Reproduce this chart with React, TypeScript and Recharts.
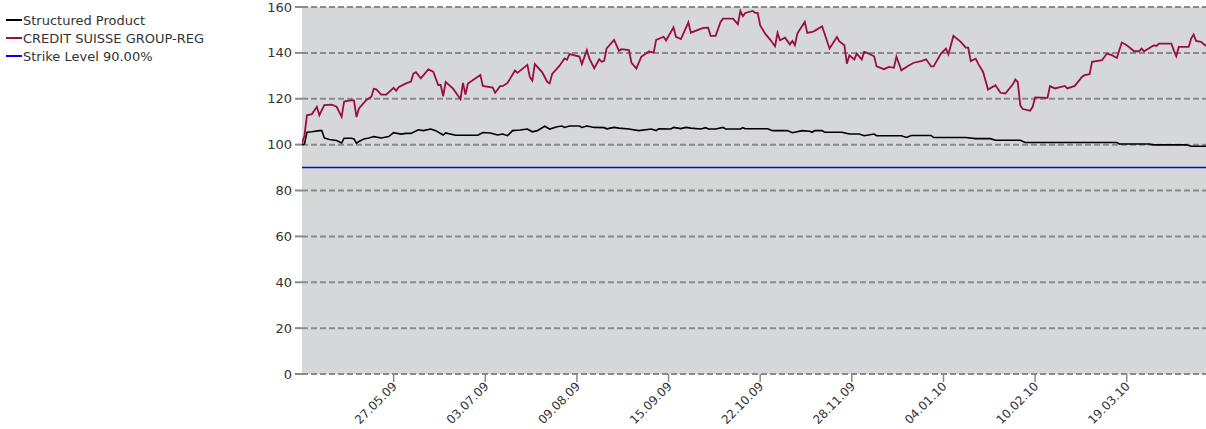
import React from 'react';
import { LineChart, Line, XAxis, YAxis, CartesianGrid } from 'recharts';

const creditDates = [
  '2009-04-20','2009-04-21','2009-04-22','2009-04-24','2009-04-26','2009-04-27','2009-04-29','2009-05-02','2009-05-04','2009-05-06',
  '2009-05-07','2009-05-10','2009-05-11','2009-05-12','2009-05-13','2009-05-16','2009-05-18','2009-05-19','2009-05-20','2009-05-22',
  '2009-05-24','2009-05-27','2009-05-28','2009-05-29','2009-06-01','2009-06-03','2009-06-04','2009-06-05','2009-06-07','2009-06-10',
  '2009-06-12','2009-06-14','2009-06-15','2009-06-16','2009-06-17','2009-06-20','2009-06-23','2009-06-24','2009-06-25','2009-06-26',
  '2009-07-01','2009-07-02','2009-07-06','2009-07-07','2009-07-09','2009-07-10','2009-07-12','2009-07-15','2009-07-16','2009-07-20',
  '2009-07-21','2009-07-22','2009-07-23','2009-07-26','2009-07-28','2009-07-29','2009-07-30','2009-08-02','2009-08-04','2009-08-05',
  '2009-08-06','2009-08-10','2009-08-11','2009-08-13','2009-08-14','2009-08-16','2009-08-18','2009-08-19','2009-08-20','2009-08-21',
  '2009-08-24','2009-08-26','2009-08-27','2009-08-30','2009-08-31','2009-09-02','2009-09-04','2009-09-07','2009-09-09','2009-09-10',
  '2009-09-12','2009-09-13','2009-09-14','2009-09-17','2009-09-18','2009-09-20','2009-09-23','2009-09-24','2009-09-29','2009-10-01',
  '2009-10-02','2009-10-04','2009-10-06','2009-10-07','2009-10-11','2009-10-13','2009-10-14','2009-10-15','2009-10-16','2009-10-19',
  '2009-10-20','2009-10-21','2009-10-22','2009-10-24','2009-10-26','2009-10-28','2009-10-29','2009-10-30','2009-11-01','2009-11-03',
  '2009-11-04','2009-11-05','2009-11-06','2009-11-09','2009-11-10','2009-11-12','2009-11-13','2009-11-16','2009-11-19','2009-11-22',
  '2009-11-23','2009-11-25','2009-11-26','2009-11-27','2009-11-29','2009-11-30','2009-12-02','2009-12-03','2009-12-04','2009-12-07',
  '2009-12-08','2009-12-11','2009-12-13','2009-12-15','2009-12-16','2009-12-18','2009-12-21','2009-12-23','2009-12-26','2009-12-28',
  '2009-12-30','2009-12-31','2010-01-03','2010-01-05','2010-01-06','2010-01-08','2010-01-11','2010-01-13','2010-01-14','2010-01-15',
  '2010-01-17','2010-01-18','2010-01-20','2010-01-22','2010-01-25','2010-01-27','2010-01-29','2010-02-01','2010-02-02','2010-02-03',
  '2010-02-04','2010-02-05','2010-02-08','2010-02-09','2010-02-10','2010-02-15','2010-02-16','2010-02-18','2010-02-22','2010-02-23',
  '2010-02-26','2010-03-01','2010-03-02','2010-03-04','2010-03-05','2010-03-09','2010-03-11','2010-03-13','2010-03-15','2010-03-17',
  '2010-03-19','2010-03-22','2010-03-24','2010-03-25','2010-03-26','2010-03-30','2010-03-31','2010-04-01','2010-04-06','2010-04-07',
  '2010-04-08','2010-04-09','2010-04-13','2010-04-14','2010-04-15','2010-04-16','2010-04-18','2010-04-20',
];
const creditValues = [
  100.5,104,112.8,113.3,116.5,112.8,117.2,117.4,116.5,112.1,
  118.8,119.4,119.2,112,115.8,119.5,120.9,124.3,124.1,121.8,
  121.8,124.8,123.5,125,126.7,127.5,131,131.6,128.9,132.8,
  131.8,126,126,121.1,127.3,124.4,119.8,126.9,121.8,126.6,
  130.4,125.6,124.9,122.6,125.5,125.5,126.9,132.3,131.3,134.8,
  129.4,127.9,135.1,131.5,127.4,126.7,130.8,134.4,137.6,137,
  139.5,138.4,135.1,141.2,137.6,133.3,137.2,136.1,136.5,142,
  145.7,140.9,141.6,141.2,135.8,133.2,138.3,140.6,140.2,145.7,
  146.6,147,145.4,151.1,147,146,153.3,148.8,150.9,151,
  147.4,147.4,153.5,154.9,154.9,152.5,158.3,156,157.4,158.3,
  157.4,157.4,152,148.4,145.8,142.9,148.7,145.5,146.6,143.7,
  145.2,143.3,148.4,153.5,148.7,149.1,149.6,151.6,141.9,146.9,
  145,143.3,135.3,138.9,137.1,139.7,137.1,140.4,140.1,138.5,
  134.1,132.9,133.9,133.5,138.3,132.4,134.5,135.7,136.4,137.2,
  134.1,134.1,139.7,141.9,139.4,147.4,144.8,142.3,142.3,136.4,
  137.5,135.3,131.7,124,125.9,122.6,122.3,126.3,128.4,127.3,
  117.2,115.5,114.8,116.5,120.6,120.4,125.5,124.5,125.6,124.5,
  125.6,129.6,130.3,130.7,136.1,136.8,139.7,139,137.8,144.5,
  143.3,140.7,140.7,141.9,140.7,143.3,143,144,144,141.1,
  138.5,142.6,142.6,146.2,148,145.2,144.8,143,
];

const productDates = [
  '2009-04-20','2009-04-21','2009-04-22','2009-04-24','2009-04-27','2009-04-28','2009-04-29','2009-05-01','2009-05-04','2009-05-06',
  '2009-05-07','2009-05-10','2009-05-11','2009-05-12','2009-05-13','2009-05-15','2009-05-17','2009-05-19','2009-05-22','2009-05-25',
  '2009-05-27','2009-05-30','2009-06-01','2009-06-03','2009-06-06','2009-06-08','2009-06-11','2009-06-13','2009-06-16','2009-06-17',
  '2009-06-21','2009-06-24','2009-06-30','2009-07-02','2009-07-05','2009-07-08','2009-07-10','2009-07-12','2009-07-14','2009-07-17',
  '2009-07-20','2009-07-22','2009-07-24','2009-07-27','2009-07-29','2009-08-01','2009-08-03','2009-08-04','2009-08-06','2009-08-10',
  '2009-08-11','2009-08-13','2009-08-16','2009-08-20','2009-08-21','2009-08-24','2009-08-26','2009-08-30','2009-09-03','2009-09-08',
  '2009-09-10','2009-09-11','2009-09-16','2009-09-17','2009-09-20','2009-09-22','2009-09-24','2009-09-28','2009-09-30','2009-10-01',
  '2009-10-04','2009-10-07','2009-10-08','2009-10-14','2009-10-15','2009-10-16','2009-10-25','2009-10-27','2009-11-02','2009-11-04',
  '2009-11-08','2009-11-11','2009-11-12','2009-11-13','2009-11-16','2009-11-17','2009-11-24','2009-11-27','2009-12-01','2009-12-03',
  '2009-12-07','2009-12-08','2009-12-18','2009-12-20','2009-12-22','2009-12-30','2009-12-31','2010-01-13','2010-01-17','2010-01-23',
  '2010-01-25','2010-02-04','2010-02-06','2010-03-15','2010-03-16','2010-03-28','2010-03-30','2010-04-12','2010-04-14','2010-04-20',
];
const productValues = [
  100,100.3,105.4,105.6,106.1,106.1,102.9,102.2,101.8,100.7,
  102.8,102.8,102.5,100.6,101.4,102.5,102.9,103.5,102.9,103.5,
  105.2,104.6,104.9,104.9,106.5,106.1,106.8,106.1,104.2,105.1,
  104.1,104.1,104.1,105.3,105.1,104.2,104.6,103.9,106.1,106.4,
  106.8,105.6,106.1,108,106.8,107.8,108.1,107.5,108.1,108.1,
  107.5,108.1,107.5,107.4,106.9,107.5,107.2,106.8,106.1,106.8,
  106.1,106.9,106.8,107.5,107,107.5,107.2,106.8,107.4,106.8,
  106.8,107.5,106.8,106.8,107.4,106.9,106.9,106.1,106.1,105.2,
  106.1,105.8,105.4,106.1,106.1,105.4,105.4,104.6,104.6,103.9,
  104.6,103.9,103.9,103.1,104,104,103.1,103.1,102.6,102.6,
  101.9,101.9,100.9,100.9,100.3,100.3,99.9,99.9,99.3,99.3,
];

const strikeDates = ['2009-04-20', '2010-04-20'];
const strikeValues = [90, 90];

const tickDates = ['2009-05-27','2009-07-03','2009-08-09','2009-09-15','2009-10-22','2009-11-28','2010-01-04','2010-02-10','2010-03-19'];
const tickLabels = ['27.05.09','03.07.09','09.08.09','15.09.09','22.10.09','28.11.09','04.01.10','10.02.10','19.03.10'];
const yTicks = [0, 20, 40, 60, 80, 100, 120, 140, 160];

const legendNames = ['Structured Product', 'CREDIT SUISSE GROUP-REG', 'Strike Level 90.00%'];
const seriesColors = ['#000000', '#9a0f3e', '#0000ff'];

const FONT = '"DejaVu Sans", sans-serif';

const toData = (dates: string[], values: number[]) =>
  dates.map((d, i) => ({ t: Date.parse(d), v: values[i] }));

const productData = toData(productDates, productValues);
const creditData = toData(creditDates, creditValues);
const strikeData = toData(strikeDates, strikeValues);
const tickTimes = tickDates.map((d) => Date.parse(d));
const labelFor = (t: number) => {
  const i = tickTimes.indexOf(t);
  return i >= 0 ? tickLabels[i] : '';
};

const XTick = (props: any) => {
  const { x, y, payload } = props;
  return (
    <g transform={`translate(${x + 4},${y + 3})`}>
      <text x={0} y={0} textAnchor="end" transform="rotate(-45)" fontSize={12} fill="#333" fontFamily={FONT}>
        {labelFor(payload.value)}
      </text>
    </g>
  );
};

export default function App() {
  return (
    <div style={{ position: 'absolute', left: 0, top: 0, width: 1206, height: 429, background: '#fff' }}>
      <div style={{ position: 'absolute', left: 6, top: 11, fontFamily: FONT, fontSize: 13, color: '#333', zIndex: 2 }}>
        {legendNames.map((n, i) => (
          <div key={n} style={{ display: 'flex', alignItems: 'center', height: 18 }}>
            <span style={{ display: 'inline-block', width: 16, height: 2, background: seriesColors[i], marginRight: 1 }} />
            <span>{n}</span>
          </div>
        ))}
      </div>
      <LineChart width={1206} height={429} margin={{ top: 7, right: 0, bottom: 0, left: 0 }}>
        <CartesianGrid
          vertical={false}
          stroke="#8a8a8a"
          strokeWidth={2}
          strokeDasharray="6 3"
          fill="#d6d7d9"
          fillOpacity={1}
        />
        <XAxis
          type="number"
          dataKey="t"
          domain={[Date.parse('2009-04-20'), Date.parse('2010-04-20')]}
          ticks={tickTimes}
          interval={0}
          height={55}
          axisLine={false}
          tickSize={8}
          tickLine={{ stroke: '#8a8a8a', strokeWidth: 1.5 }}
          tick={<XTick />}
          allowDataOverflow
        />
        <YAxis
          type="number"
          domain={[0, 160]}
          ticks={yTicks}
          interval={0}
          width={302}
          axisLine={false}
          tickSize={7}
          tickMargin={3}
          tickLine={{ stroke: '#8a8a8a', strokeWidth: 2 }}
          tick={{ fontSize: 13, fill: '#333', fontFamily: FONT }}
        />
        <Line data={strikeData} dataKey="v" name={legendNames[2]} stroke={seriesColors[2]} strokeWidth={1.5} dot={false} isAnimationActive={false} />
        <Line data={productData} dataKey="v" name={legendNames[0]} stroke={seriesColors[0]} strokeWidth={1.6} dot={false} isAnimationActive={false} />
        <Line data={creditData} dataKey="v" name={legendNames[1]} stroke={seriesColors[1]} strokeWidth={1.8} dot={false} isAnimationActive={false} />
      </LineChart>
    </div>
  );
}
